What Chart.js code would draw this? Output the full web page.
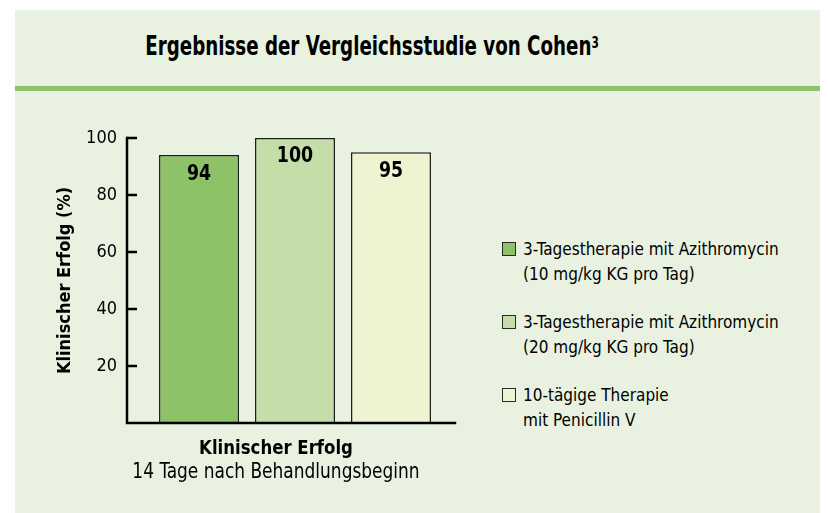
<!DOCTYPE html>
<html>
<head>
<meta charset="utf-8">
<script src="https://cdn.jsdelivr.net/npm/chart.js@4/dist/chart.umd.min.js"></script>
<style>
body{margin:0;background:#fff;width:828px;height:513px;overflow:hidden;position:relative;
  font-family:"Liberation Sans Narrow","DejaVu Sans Condensed","Roboto",sans-serif;color:#000}
#panel{position:absolute;left:15px;top:10px;width:805px;height:503px;background:#e9f2e1}
#title{position:absolute;left:0;top:31px;width:744px;text-align:center;font-weight:bold;font-size:26px;line-height:30px;
  transform:scaleX(0.78);transform-origin:372px 0}
#title sup{font-size:15px;vertical-align:top;position:relative;top:-3px}
#rule{position:absolute;left:15px;top:86px;width:805px;height:5px;background:#8dc26a}
#legend{position:absolute;left:502px;top:0}
.item{position:absolute;left:0;width:320px;font-size:17px;line-height:25px}
.box{position:absolute;left:0;top:5px;width:12px;height:12px;border:1.5px solid #2a2a2a}
.txt{position:absolute;left:21px;top:0;white-space:nowrap}
canvas{position:absolute;left:0;top:0}
</style>
</head>
<body>
<div id="panel"></div>
<div id="title">Ergebnisse der Vergleichsstudie von Cohen<sup>3</sup></div>
<div id="rule"></div>
<div id="legend"></div>
<canvas id="chart" width="828" height="513"></canvas>
<script>
const categories = ["Klinischer Erfolg"];
const subLabel = "14 Tage nach Behandlungsbeginn";
const seriesNames = [
  ["3-Tagestherapie mit Azithromycin", "(10 mg/kg KG pro Tag)"],
  ["3-Tagestherapie mit Azithromycin", "(20 mg/kg KG pro Tag)"],
  ["10-tägige Therapie", "mit Penicillin V"]
];
const seriesValues = [94, 100, 95];
const seriesColors = ["#8ec266", "#c5dda9", "#eef3d2"];
const yTicks = [20, 40, 60, 80, 100];
const yTitle = "Klinischer Erfolg (%)";

const fontName = '"Liberation Sans Narrow","DejaVu Sans Condensed",Roboto,sans-serif';

// legend as html
const legend = document.getElementById("legend");
seriesNames.forEach(function (lines, i) {
  const item = document.createElement("div");
  item.className = "item";
  item.style.top = (237 + 73 * i) + "px";
  item.innerHTML = '<div class="box" style="background:' + seriesColors[i] + '"></div>' +
    '<div class="txt">' + lines.join("<br>") + '</div>';
  legend.appendChild(item);
});

// narrow text helper (the original uses a condensed face)
function narrowText(ctx, text, x, y, sx) {
  ctx.save();
  ctx.translate(x, y);
  ctx.scale(sx, 1);
  ctx.fillText(text, 0, 0);
  ctx.restore();
}

const axisPlugin = {
  id: "axisPlugin",
  afterDraw(chart) {
    const ctx = chart.ctx;
    const area = chart.chartArea;
    const y = chart.scales.y;
    ctx.save();
    ctx.strokeStyle = "#000";
    ctx.lineWidth = 2.5;
    ctx.lineCap = "square";
    // axes
    ctx.beginPath();
    ctx.moveTo(area.left, y.getPixelForValue(100));
    ctx.lineTo(area.left, area.bottom);
    ctx.lineTo(area.right - 8, area.bottom);
    ctx.stroke();
    // inward tick marks
    ctx.lineCap = "butt";
    yTicks.forEach(function (v) {
      const py = y.getPixelForValue(v);
      ctx.beginPath();
      ctx.moveTo(area.left, py);
      ctx.lineTo(area.left + 10, py);
      ctx.stroke();
    });
    // value labels inside bars
    ctx.fillStyle = "#000";
    ctx.textAlign = "center";
    ctx.textBaseline = "middle";
    ctx.font = "bold 21px " + fontName;
    chart.data.datasets.forEach(function (ds, i) {
      const meta = chart.getDatasetMeta(i);
      meta.data.forEach(function (bar, j) {
        narrowText(ctx, String(ds.data[j]), bar.x, bar.y + 19, 0.92);
      });
    });
    // category text below axis
    const cx = (area.left + area.right) / 2 - 19;
    ctx.font = "bold 20px " + fontName;
    narrowText(ctx, categories[0], cx, area.bottom + 26, 0.92);
    ctx.font = "21px " + fontName;
    narrowText(ctx, subLabel, cx, area.bottom + 50, 0.9);
    ctx.restore();
  }
};

new Chart(document.getElementById("chart"), {
  type: "bar",
  data: {
    labels: categories,
    datasets: seriesNames.map(function (lines, i) {
      return {
        label: lines.join(" "),
        data: [seriesValues[i]],
        backgroundColor: seriesColors[i],
        borderColor: "#1e1e1e",
        borderWidth: 1.5,
        borderSkipped: "start",
        barPercentage: 0.8333,
        categoryPercentage: 0.857
      };
    })
  },
  options: {
    responsive: false,
    animation: false,
    layout: { padding: { left: 0, top: 138, right: 365, bottom: 90 } },
    plugins: {
      legend: { display: false },
      tooltip: { enabled: false }
    },
    scales: {
      x: { display: false },
      y: {
        min: 0,
        max: 100,
        afterFit(scale) { scale.width = 127; },
        grid: { display: false, drawTicks: false },
        border: { display: false },
        ticks: {
          stepSize: 20,
          padding: 10,
          color: "#000",
          font: { family: fontName, size: 18 },
          callback: function (v) { return v === 0 ? "" : v; }
        },
        title: {
          display: true,
          text: yTitle,
          color: "#000",
          padding: { top: 55, bottom: 0 },
          font: { family: fontName, size: 18, weight: "bold" }
        }
      }
    }
  },
  plugins: [axisPlugin]
});
</script>
</body>
</html>
